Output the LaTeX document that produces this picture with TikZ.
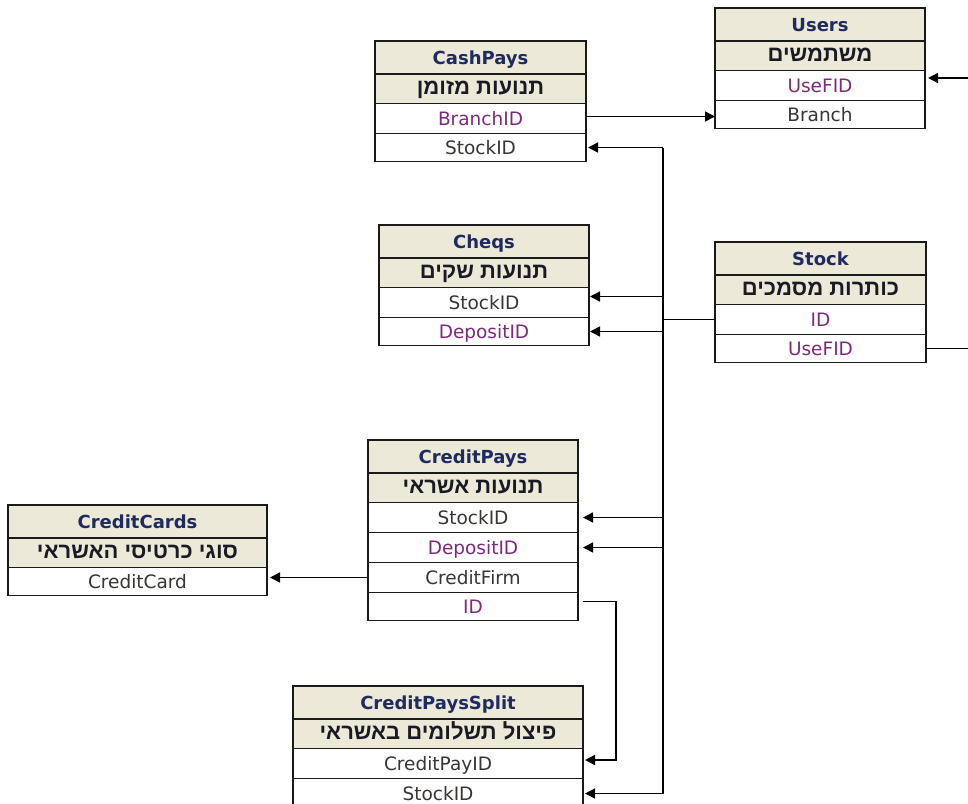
\documentclass[tikz,border=0pt]{standalone}
\usepackage{fontspec}
\setmainfont{DejaVu Sans}
\newfontfamily\hebfont[Script=Hebrew]{Liberation Sans}
\TeXXeTstate=1
\usetikzlibrary{arrows.meta}
\definecolor{hdrfill}{HTML}{ECE9D8}
\definecolor{bord}{HTML}{1A1A1A}
\definecolor{ttlcol}{HTML}{1F2A5E}
\definecolor{hebcol}{HTML}{1A1A24}
\definecolor{fdark}{HTML}{3A3530}
\definecolor{fpurp}{HTML}{7D2A7D}
\tikzset{
  cell/.style={draw=bord, line width=1.5pt, rectangle, outer sep=0pt, inner sep=0pt, anchor=north west},
  titlecell/.style={cell, fill=hdrfill, minimum height=33pt, text=ttlcol,
     font=\bfseries\fontsize{18}{21}\selectfont, text height=13.1pt, text depth=0pt},
  hebcell/.style={cell, fill=hdrfill, minimum height=29.5pt, text=hebcol,
     font=\hebfont\bfseries\fontsize{22}{25}\selectfont, text height=11.6pt, text depth=0pt},
  fieldcell/.style={cell, fill=white,
     font=\fontsize{18.5}{21}\selectfont, text height=13.5pt, text depth=0pt},
  conn/.style={draw=black, line width=1.4pt},
  arr/.style={conn, -{Triangle[length=10pt,width=10pt]}}
}
% #1 name, #2 x, #3 y, #4 width, #5 title, #6 hebrew (already wrapped in beginR/endR)
\newcommand\mktable[6]{%
  \node[titlecell, minimum width=#4] (#1-t) at (#2,#3) {#5};
  \node[hebcell, minimum width=#4] (#1-h) at (#1-t.south west) {#6};
}
% #1 name, #2 prev, #3 width, #4 height, #5 colour, #6 text
\newcommand\mkfield[6]{%
  \node[fieldcell, minimum width=#3, minimum height=#4, text=#5] (#1) at (#2.south west) {#6};
}
\begin{document}
\begin{tikzpicture}[x=1pt,y=-1pt]
\useasboundingbox (0,0) rectangle (968,803);

% Users
\mktable{users}{715}{8}{210pt}{Users}{\beginR משתמשים\endR}
\mkfield{users-uf}{users-h}{210pt}{30pt}{fpurp}{UseFID}
\mkfield{users-br}{users-uf}{210pt}{28pt}{fdark}{Branch}

% CashPays
\mktable{cash}{375}{41}{211pt}{CashPays}{\beginR תנועות מזומן\endR}
\mkfield{cash-b}{cash-h}{211pt}{30pt}{fpurp}{BranchID}
\mkfield{cash-s}{cash-b}{211pt}{28pt}{fdark}{StockID}

% Cheqs
\mktable{cheq}{379}{225}{210pt}{Cheqs}{\beginR תנועות שקים\endR}
\mkfield{cheq-s}{cheq-h}{210pt}{30pt}{fdark}{StockID}
\mkfield{cheq-d}{cheq-s}{210pt}{28pt}{fpurp}{DepositID}

% Stock
\mktable{stock}{715}{242}{211pt}{Stock}{\beginR כותרות מסמכים\endR}
\mkfield{stock-id}{stock-h}{211pt}{30pt}{fpurp}{ID}
\mkfield{stock-uf}{stock-id}{211pt}{28pt}{fpurp}{UseFID}

% CreditPays
\mktable{cp}{368}{440}{210pt}{CreditPays}{\beginR תנועות אשראי\endR}
\mkfield{cp-s}{cp-h}{210pt}{30pt}{fdark}{StockID}
\mkfield{cp-d}{cp-s}{210pt}{30pt}{fpurp}{DepositID}
\mkfield{cp-f}{cp-d}{210pt}{30pt}{fdark}{CreditFirm}
\mkfield{cp-id}{cp-f}{210pt}{28pt}{fpurp}{ID}

% CreditCards
\mktable{cc}{8}{505}{259pt}{CreditCards}{\beginR סוגי כרטיסי האשראי\endR}
\mkfield{cc-c}{cc-h}{259pt}{28pt}{fdark}{CreditCard}

% CreditPaysSplit
\mktable{cps}{293}{686}{290pt}{CreditPaysSplit}{\beginR פיצול תשלומים באשראי\endR}
\mkfield{cps-c}{cps-h}{290pt}{30pt}{fdark}{CreditPayID}
\mkfield{cps-s}{cps-c}{290pt}{30pt}{fdark}{StockID}

% helper coordinates
\coordinate (busx) at (663,0);
\coordinate (idx) at (616,0);
\coordinate (offright) at (1000,0);

% BranchID -> Users.Branch
\draw[arr] ([yshift=2pt]cash-b.east) -- ([yshift=2pt]cash-b.east -| users-br.west);

% Stock.UseFID -> Users.UseFID (route leaves the picture on the right)
\draw[arr] (stock-uf.east) -- (stock-uf.east -| offright) |- ([xshift=3pt,yshift=7.5pt]users-uf.east);

% Stock.ID bus
\draw[conn] (stock-id.west) -- (stock-id.west -| busx);
\draw[conn] (cash-s.east -| busx) -- (cps-s.east -| busx);
\draw[arr] (cash-s.east -| busx) -- ([xshift=2pt]cash-s.east);
\draw[arr] ([yshift=6pt]cheq-s.east -| busx) -- ([xshift=1pt,yshift=6pt]cheq-s.east);
\draw[arr] (cheq-d.east -| busx) -- ([xshift=1pt]cheq-d.east);
\draw[arr] (cp-s.east -| busx) -- ([xshift=5pt]cp-s.east);
\draw[arr] (cp-d.east -| busx) -- ([xshift=5pt]cp-d.east);
\draw[arr] (cps-s.east -| busx) -- ([xshift=2pt]cps-s.east);

% CreditPays.CreditFirm -> CreditCards.CreditCard
\draw[arr] (cp-f.west) -- ([xshift=3pt]cp-f.west -| cc-c.east);

% CreditPays.ID -> CreditPaysSplit.CreditPayID
\draw[arr] ([xshift=5pt,yshift=5pt]cp-id.east) -- ([yshift=5pt]cp-id.east -| idx) |- ([xshift=2pt,yshift=3.5pt]cps-c.east);
\end{tikzpicture}
\end{document}
